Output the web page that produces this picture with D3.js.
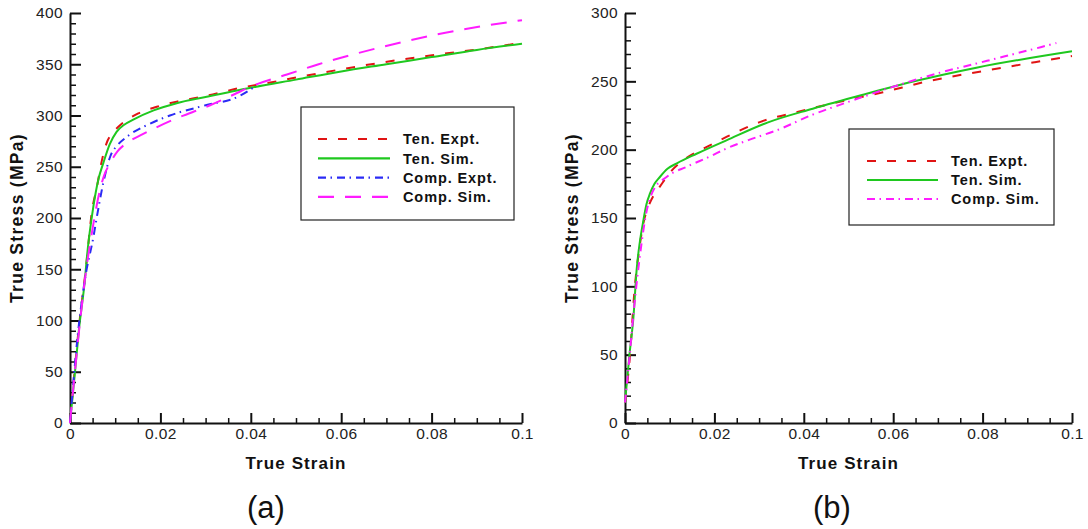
<!DOCTYPE html>
<html><head><meta charset="utf-8">
<script src="https://cdn.jsdelivr.net/npm/d3@7"></script>
<style>
html,body{margin:0;padding:0;background:#fff;}
svg{display:block;}
.tick text{font-family:"Liberation Sans",Arial,sans-serif;font-size:15.5px;fill:#222;letter-spacing:0.4px;}
.title{font-family:"Liberation Sans",Arial,sans-serif;font-weight:bold;font-size:17px;fill:#111;letter-spacing:1.1px;}
.ytitle{font-size:17.5px;letter-spacing:1.3px;}
.leg{font-family:"Liberation Sans",Arial,sans-serif;font-weight:bold;font-size:14.5px;fill:#111;letter-spacing:0.9px;}
.panel{font-family:"Liberation Sans",Arial,sans-serif;font-size:31px;fill:#111;}
</style></head>
<body><svg id="c" width="1088" height="529"></svg>
<script>
// ---------- data ----------
const xTicks = [0, 0.02, 0.04, 0.06, 0.08, 0.1];
const xTickLabels = ["0", "0.02", "0.04", "0.06", "0.08", "0.1"];
const yTicksA = [0, 50, 100, 150, 200, 250, 300, 350, 400];
const yTicksB = [0, 50, 100, 150, 200, 250, 300];
const xTitle = "True Strain";
const yTitle = "True Stress (MPa)";
const panelLabels = ["(a)", "(b)"];
const legendA = ["Ten. Expt.", "Ten. Sim.", "Comp. Expt.", "Comp. Sim."];
const legendB = ["Ten. Expt.", "Ten. Sim.", "Comp. Sim."];

// panel (a): [strain, stress MPa]
const aTenExpt = [[0,0],[0.002,95],[0.0035,150],[0.0049,208],[0.0059,229],[0.007,255],[0.0081,273],[0.0094,283],[0.0107,289],[0.0151,302],[0.0192,308.5],[0.0236,313.5],[0.03,319],[0.0377,327],[0.0453,333],[0.053,339.5],[0.0606,345.5],[0.068,351],[0.0797,358.5],[0.091,365],[0.1,371]];
const aTenSim = [[0,0],[0.001,45],[0.002,92],[0.0033,140],[0.0037,160],[0.0052,212],[0.0063,238],[0.0074,254],[0.0088,272],[0.0103,284],[0.012,291],[0.014,296],[0.0185,305],[0.0236,312],[0.03,318],[0.04,327],[0.05,335],[0.06,343],[0.07,350],[0.08,357],[0.09,364],[0.1,370]];
const aCompExpt = [[0,0],[0.0017,85],[0.0033,140],[0.0052,182],[0.0059,200],[0.0074,235],[0.0089,260],[0.0105,271],[0.0125,279],[0.0177,292],[0.0221,300],[0.03,310],[0.037,318],[0.0405,327]];
const aCompSim = [[0,0],[0.002,90],[0.0033,140],[0.0052,195],[0.0065,225],[0.0076,242],[0.0088,253],[0.0105,265],[0.0125,273],[0.0162,282],[0.0229,296],[0.031,310],[0.036,320],[0.041,330],[0.048,340],[0.055,350],[0.063,360],[0.072,370],[0.081,379],[0.091,387],[0.1,393]];

// panel (b)
const bTenExpt = [[0,15],[0.001,45],[0.0022,100],[0.0031,125],[0.0041,146],[0.0052,158],[0.0065,167],[0.0078,173],[0.01,183],[0.0138,194],[0.0183,202],[0.0228,209.5],[0.03,220],[0.039,228],[0.048,235],[0.0577,242],[0.0677,250],[0.081,258],[0.0917,264],[0.1,268.5]];
const bTenSim = [[0,15],[0.001,50],[0.0019,78],[0.0026,112],[0.0033,132],[0.0041,148],[0.0048,160],[0.0056,168],[0.0066,175],[0.0078,180],[0.0095,186],[0.0116,190],[0.016,197],[0.0228,207],[0.032,220],[0.042,230],[0.053,240],[0.0647,250],[0.0786,260],[0.1,272]];
const bCompSim = [[0,15],[0.001,48],[0.0019,80],[0.0034,124],[0.0049,156],[0.0063,170],[0.0093,180],[0.0138,187.5],[0.019,195],[0.0228,201],[0.0276,207],[0.0346,215],[0.0415,225],[0.05,235],[0.059,245],[0.069,255],[0.081,265],[0.093,275],[0.0965,278]];

// ---------- styles ----------
const RED = "#e01414", GREEN = "#1fc81f", BLUE = "#2b2bf5", MAG = "#ff1cff";
const DASH_RED = "9,11", DASH_MAG_LONG = "16,11", DASH_DOT = "8,4.5,1.5,5", SOLID = null;

const svg = d3.select("#c");
svg.append("rect").attr("width",1088).attr("height",529).attr("fill","#fff");

function panel(opt){
  const g = svg.append("g");
  const x = d3.scaleLinear().domain([0,0.1]).range([opt.x0, opt.x1]);
  const y = d3.scaleLinear().domain([0,opt.ymax]).range([423, 13]);

  // minor ticks
  const xMinor = d3.range(0, 0.1001, 0.005).filter(v => Math.abs(v/0.02 - Math.round(v/0.02)) > 1e-6);
  const yMinor = d3.range(0, opt.ymax + 0.1, 10).filter(v => v % 50 !== 0);
  g.append("g").attr("transform",`translate(0,${y(0)})`)
    .call(d3.axisBottom(x).tickValues(xMinor).tickSize(-5).tickFormat(""))
    .call(a => a.select(".domain").remove())
    .call(a => a.selectAll("line").attr("stroke","#111").attr("stroke-width",1.5));
  g.append("g").attr("transform",`translate(${x(0)},0)`)
    .call(d3.axisLeft(y).tickValues(yMinor).tickSize(-6).tickFormat(""))
    .call(a => a.select(".domain").remove())
    .call(a => a.selectAll("line").attr("stroke","#111").attr("stroke-width",1.5));

  // major axes
  g.append("g").attr("transform",`translate(0,${y(0)})`)
    .call(d3.axisBottom(x).tickValues(xTicks).tickSize(-10).tickSizeOuter(0).tickPadding(5)
      .tickFormat((d,i) => xTickLabels[i]))
    .call(a => a.select(".domain").attr("stroke","#111").attr("stroke-width",2))
    .call(a => a.selectAll("line").attr("stroke","#111").attr("stroke-width",2))
    .call(a => a.selectAll("text").attr("fill","#222"));
  g.append("g").attr("transform",`translate(${x(0)},0)`)
    .call(d3.axisLeft(y).tickValues(opt.yTicks).tickSize(-11).tickSizeOuter(0).tickPadding(7))
    .call(a => a.select(".domain").attr("stroke","#111").attr("stroke-width",2))
    .call(a => a.selectAll("line").attr("stroke","#111").attr("stroke-width",2))
    .call(a => a.selectAll("text").attr("fill","#222"));

  // curves
  const line = d3.line().x(d => x(d[0])).y(d => y(d[1])).curve(d3.curveMonotoneX);
  const clipId = "clip" + opt.id;
  svg.append("clipPath").attr("id", clipId).append("rect")
    .attr("x", opt.x0 - 1).attr("y", 8).attr("width", opt.x1 - opt.x0 + 6).attr("height", 420);
  const cg = g.append("g").attr("clip-path", `url(#${clipId})`);
  opt.series.forEach(s => {
    cg.append("path").datum(s.data).attr("d", line)
      .attr("fill","none").attr("stroke", s.color).attr("stroke-width", 2)
      .attr("stroke-dasharray", s.dash);
  });

  // titles
  g.append("text").attr("class","title").attr("x",(opt.x0+opt.x1)/2).attr("y",469)
    .attr("text-anchor","middle").text(xTitle);
  g.append("text").attr("class","title ytitle")
    .attr("transform",`translate(${opt.ytx},218) rotate(-90)`)
    .attr("text-anchor","middle").attr("dy","0.35em").text(yTitle);
  g.append("text").attr("class","panel").attr("x",opt.px).attr("y",518)
    .attr("text-anchor","middle").text(opt.label);

  // legend
  const L = opt.legend;
  g.append("rect").attr("x",L.x).attr("y",L.y).attr("width",L.w).attr("height",L.h)
    .attr("fill","#fff").attr("stroke","#222").attr("stroke-width",1.2);
  opt.series.forEach((s,i) => {
    const yy = L.row0 + i*L.dy;
    g.append("line").attr("x1",L.lx0).attr("x2",L.lx1).attr("y1",yy).attr("y2",yy)
      .attr("stroke",s.color).attr("stroke-width",2.2).attr("stroke-dasharray",s.dash);
    g.append("text").attr("class","leg").attr("x",L.tx).attr("y",yy).attr("dy","0.36em").text(s.name);
  });
}

panel({
  id:"a", x0:70, x1:522, ymax:400, yTicks:yTicksA, ytx:17, px:266, label:panelLabels[0],
  series:[
    {name:legendA[0], data:aTenExpt, color:RED, dash:DASH_RED},
    {name:legendA[1], data:aTenSim, color:GREEN, dash:SOLID},
    {name:legendA[2], data:aCompExpt, color:BLUE, dash:DASH_DOT},
    {name:legendA[3], data:aCompSim, color:MAG, dash:DASH_MAG_LONG}
  ],
  legend:{x:301,y:107,w:213,h:113,row0:139,dy:19.3,lx0:318,lx1:390,tx:403}
});
panel({
  id:"b", x0:625, x1:1072, ymax:300, yTicks:yTicksB, ytx:572, px:832, label:panelLabels[1],
  series:[
    {name:legendB[0], data:bTenExpt, color:RED, dash:DASH_RED},
    {name:legendB[1], data:bTenSim, color:GREEN, dash:SOLID},
    {name:legendB[2], data:bCompSim, color:MAG, dash:DASH_DOT}
  ],
  legend:{x:849,y:129,w:205,h:96,row0:161,dy:19,lx0:867,lx1:938,tx:951}
});
</script></body></html>
